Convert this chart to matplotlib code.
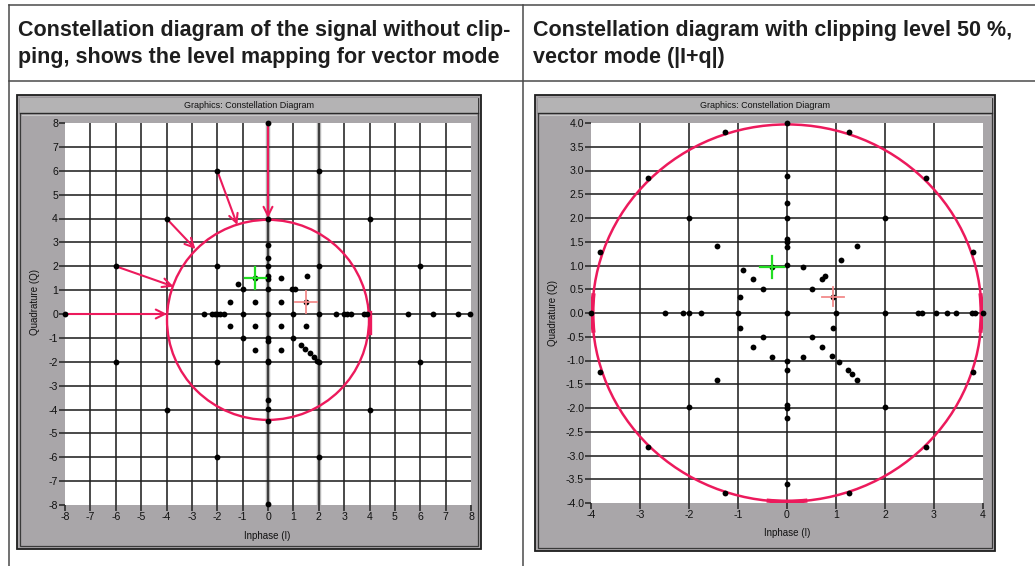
import matplotlib
matplotlib.use('Agg')
import matplotlib.pyplot as plt
from matplotlib.patches import Rectangle, Ellipse, Arc

W, H = 1035, 566

# ---------------- text ----------------
header_left = ["Constellation diagram of the signal without clip-",
               "ping, shows the level mapping for vector mode"]
header_right = ["Constellation diagram with clipping level 50 %,",
                "vector mode (|I+q|)"]
window_title = "Graphics: Constellation Diagram"
xlabel = "Inphase (I)"
ylabel = "Quadrature (Q)"

# ---------------- left chart data (no clipping) ----------------
left_ticks = [-8, -7, -6, -5, -4, -3, -2, -1, 0, 1, 2, 3, 4, 5, 6, 7, 8]
left_I = [-8, 0, -2, 2, -4, 4, -6, -2, 2, 6, -6, -2, 2, 6, -4, 4, -2, 2, 0, 0,
          -2.53, -2.2, -2.1, -2.0, -1.9, -1.74, -1.0, 0, 1.0, 2.0, 2.67, 3.0, 3.13, 3.26,
          3.78, 3.92, 5.5, 6.5, 7.5, 7.95,
          0, 0, 0, 0, 0, 0, 0, 0, 0, 0, 0, 0, 0,
          -1.2, -1.0, -0.5, 0.5, 1.55, 0.96, 1.05, -1.5, -0.5, 0.5, 1.5,
          -1.5, -0.5, 0.5, 1.5, -1.0, 1.0, -0.5, 0.5,
          1.3, 1.45, 1.65, 1.8, 1.95]
left_Q = [0, 8, 6, 6, 4, 4, 2, 2, 2, 2, -2, -2, -2, -2, -4, -4, -6, -6, -7.95, 4,
          0, 0, 0, 0, 0, 0, 0, 0, 0, 0, 0, 0, 0, 0,
          0, 0, 0, 0, 0, 0,
          2.9, 2.35, 2.0, 1.6, 1.45, 1.05, -1.0, -1.15, -1.97, -2.02, -3.6, -3.98, -4.48,
          1.27, 1.05, 1.5, 1.52, 1.6, 1.05, 1.05, 0.5, 0.52, 0.5, 0.52,
          -0.5, -0.5, -0.5, -0.5, -1.0, -1.0, -1.5, -1.5,
          -1.3, -1.45, -1.65, -1.8, -1.95]
# level-mapping arrows: start -> end
arrow_start_I = [-8, -6, -4, -2, 0]
arrow_start_Q = [0, 2, 4, 6, 8]
arrow_end_I = [-3.98, -3.72, -2.86, -1.21, 0]
arrow_end_Q = [0, 1.15, 2.72, 3.73, 4.02]
left_circle_center = (0, -0.245)
left_circle_size = (7.96, 8.38)
left_marker_green = (-0.5, 1.5)
left_marker_red = (1.5, 0.5)

# ---------------- right chart data (clipping 50 %) ----------------
right_xticks = [-4, -3, -2, -1, 0, 1, 2, 3, 4]
right_yticks = [-4.0, -3.5, -3.0, -2.5, -2.0, -1.5, -1.0, -0.5, 0.0,
                0.5, 1.0, 1.5, 2.0, 2.5, 3.0, 3.5, 4.0]
right_I = [-1.26, 1.26, -2.84, 2.83, -3.81, 3.80, -3.81, 3.80, -2.84, 2.83, -1.26, 1.26, 0, -3.99,
           -2.0, 2.0, -2.0, 2.0, -1.42, 1.43, -1.42, 1.43,
           0, 0, 0, 0, 0, 0, 0, 0, 0, 0, 0, 0, 0, 0,
           -2.5, -2.13, -2.01, -1.75, -1.0, 1.01, 2.0, 2.68, 2.75, 3.05, 3.26, 3.45, 3.77, 3.83, 3.99,
           -0.89, -0.70, -0.50, -0.96, -0.96, -0.50, -0.70, -0.31, 0.32, 0.50, 0.71, 0.94,
           0.92, 1.07, 1.25, 1.32, 0.32, 0.50, 0.71, 0.78, 1.10, -0.31, 0.94]
right_Q = [3.81, 3.81, 2.84, 2.84, 1.28, 1.28, -1.24, -1.24, -2.83, -2.83, -3.79, -3.79, 4.0, 0,
           2.0, 2.0, -1.98, -1.98, 1.42, 1.42, -1.40, -1.40,
           2.88, 2.32, 2.0, 1.56, 1.50, 1.40, 1.02, 0, -1.02, -1.19, -1.93, -1.99, -2.22, -3.6,
           0, 0, 0, 0, 0, 0, 0, 0, 0, 0, 0, 0, 0, 0, 0,
           0.90, 0.72, 0.51, 0.34, -0.32, -0.50, -0.72, -0.93, -0.93, -0.50, -0.72, -0.32,
           -0.91, -1.04, -1.21, -1.28, 0.96, 0.51, 0.72, 0.77, 1.12, 0.96, 0.34]
right_circle_radius = 3.97
right_marker_green = (-0.31, 0.97)
right_marker_red = (0.94, 0.34)

# ---------------- styles ----------------
RED = '#ec1a5c'
PANEL = '#a9a6a9'
TITLEBAR = '#b4b3b4'
GRID = '#222222'
UI_FONT = 'Liberation Sans'

fig = plt.figure(figsize=(W / 100, H / 100), dpi=100)
canvas = fig.add_axes([0, 0, 1, 1])
canvas.set_xlim(0, W)
canvas.set_ylim(H, 0)
canvas.axis('off')

# table lines
tl = dict(color='#4a4a4a', lw=1.1)
canvas.plot([9, W], [5, 5], **tl)
canvas.plot([9, W], [81, 81], **tl)
canvas.plot([9, 9], [5, H], **tl)
canvas.plot([523, 523], [5, H], **tl)

# header text, fitted to the reference width
hdr_kw = dict(fontfamily='Liberation Sans', fontweight='bold', color='#1e1e1e', va='baseline', ha='left')
fs = 13.0
t = canvas.text(18, 36, header_left[0], fontsize=fs, **hdr_kw)
fig.canvas.draw()
w = t.get_window_extent().width
fs = fs * 490.0 / w
t.set_fontsize(fs)
canvas.text(18, 63, header_left[1], fontsize=fs, **hdr_kw)
canvas.text(533, 36, header_right[0], fontsize=fs, **hdr_kw)
canvas.text(533, 63, header_right[1], fontsize=fs, **hdr_kw)


def window_frame(x0, y0, x1, y1):
    canvas.add_patch(Rectangle((x0, y0), x1 - x0, y1 - y0, facecolor=PANEL,
                               edgecolor='#1e1e1e', lw=1.3, zorder=1))
    canvas.add_patch(Rectangle((x0 + 3, y0 + 3), x1 - x0 - 6, y1 - y0 - 6, facecolor='none',
                               edgecolor='#3a3a3a', lw=0.9, zorder=2))
    canvas.add_patch(Rectangle((x0 + 3, y0 + 3), x1 - x0 - 6, 15, facecolor=TITLEBAR,
                               edgecolor='none', zorder=2))
    canvas.plot([x0 + 3, x1 - 3], [y0 + 18, y0 + 18], color='#2a2a2a', lw=1.0, zorder=3)
    canvas.plot([x0 + 5, x1 - 5], [y0 + 20, y0 + 20], color='#c8c8c8', lw=0.8, zorder=3)
    canvas.text((x0 + x1) / 2, y0 + 11, window_title, ha='center', va='center',
                fontsize=6.5, fontfamily=UI_FONT, color='#111111', zorder=4)


def plot_axes(x0, y0, x1, y1):
    ax = fig.add_axes([x0 / W, 1 - y1 / H, (x1 - x0) / W, (y1 - y0) / H], zorder=5)
    ax.set_facecolor('white')
    for s in ax.spines.values():
        s.set_visible(False)
    ax.tick_params(axis='both', length=4, width=1.1, color='#222222', labelsize=7.6,
                   pad=1, labelcolor='#111111')
    return ax


# ---------------- left window ----------------
window_frame(17, 95, 481, 549)
axL = plot_axes(65, 123, 471, 505)
axL.set_xlim(left_ticks[0], left_ticks[-1])
axL.set_ylim(left_ticks[0], left_ticks[-1])
axL.set_xticks(left_ticks)
axL.set_yticks(left_ticks)
axL.set_xticklabels([str(v) for v in left_ticks], fontfamily=UI_FONT)
axL.set_yticklabels([str(v) for v in left_ticks], fontfamily=UI_FONT)
for v in left_ticks[1:-1]:
    if v in (0, 2):
        axL.axvline(v, color='#b5b5b5', lw=3.2, zorder=1)
    axL.axvline(v, color=GRID, lw=1.15, zorder=1.5)
    axL.axhline(v, color=GRID, lw=1.15, zorder=1.5)

axL.add_patch(Ellipse(left_circle_center, left_circle_size[0], left_circle_size[1],
                      facecolor='none', edgecolor=RED, lw=1.7, zorder=3))
axL.plot([4, 4], [0.1, -0.8], color=RED, lw=2.4, zorder=3)
for sx, sy, ex, ey in zip(arrow_start_I, arrow_start_Q, arrow_end_I, arrow_end_Q):
    axL.annotate('', xy=(ex, ey), xytext=(sx, sy),
                 arrowprops=dict(arrowstyle='->', color=RED, lw=1.5, mutation_scale=16,
                                 shrinkA=0, shrinkB=0), zorder=4)
axL.plot(left_I, left_Q, 'o', color='black', ms=4.2, mew=0, zorder=6, clip_on=False)
gx, gy = left_marker_green
axL.plot([gx - 0.42, gx + 0.42], [gy, gy], color='#22dd22', lw=1.6, zorder=7)
axL.plot([gx, gx], [gy - 0.45, gy + 0.45], color='#22dd22', lw=1.6, zorder=7)
rx, ry = left_marker_red
axL.plot([rx - 0.42, rx + 0.42], [ry, ry], color='#f28a8a', lw=1.3, zorder=7)
axL.plot([rx, rx], [ry - 0.45, ry + 0.45], color='#f28a8a', lw=1.3, zorder=7)

canvas.text(267, 536, xlabel, ha='center', va='center', fontsize=7,
            fontfamily=UI_FONT, color='#111111', zorder=4)
canvas.text(35, 302, ylabel, ha='center', va='center', rotation=90, fontsize=7,
            fontfamily=UI_FONT, color='#111111', zorder=4)

# ---------------- right window ----------------
window_frame(535, 95, 995, 551)
axR = plot_axes(591, 123, 983, 503)
axR.set_xlim(right_xticks[0], right_xticks[-1])
axR.set_ylim(right_yticks[0], right_yticks[-1])
axR.set_xticks(right_xticks)
axR.set_yticks(right_yticks)
axR.set_xticklabels([str(v) for v in right_xticks], fontfamily=UI_FONT)
axR.set_yticklabels(['%.1f' % v for v in right_yticks], fontfamily=UI_FONT)
for v in right_xticks[1:-1]:
    axR.axvline(v, color=GRID, lw=1.15, zorder=1.5)
for v in right_yticks[1:-1]:
    axR.axhline(v, color=GRID, lw=1.15, zorder=1.5)

R = right_circle_radius
axR.add_patch(Ellipse((0, 0), 2 * R, 2 * R, facecolor='none', edgecolor=RED, lw=1.8, zorder=3))
for a1, a2 in [(-6, 6), (174, 186), (264, 276)]:
    axR.add_patch(Arc((0, 0), 2 * R, 2 * R, theta1=a1, theta2=a2, edgecolor=RED, lw=3.0, zorder=3))
axR.plot(right_I, right_Q, 'o', color='black', ms=4.2, mew=0, zorder=6, clip_on=False)
gx, gy = right_marker_green
axR.plot([gx - 0.24, gx + 0.24], [gy, gy], color='#22dd22', lw=1.6, zorder=7)
axR.plot([gx, gx], [gy - 0.23, gy + 0.23], color='#22dd22', lw=1.6, zorder=7)
rx, ry = right_marker_red
axR.plot([rx - 0.22, rx + 0.22], [ry, ry], color='#f28a8a', lw=1.3, zorder=7)
axR.plot([rx, rx], [ry - 0.2, ry + 0.2], color='#f28a8a', lw=1.3, zorder=7)

canvas.text(787, 533, xlabel, ha='center', va='center', fontsize=7,
            fontfamily=UI_FONT, color='#111111', zorder=4)
canvas.text(553, 313, ylabel, ha='center', va='center', rotation=90, fontsize=7,
            fontfamily=UI_FONT, color='#111111', zorder=4)

fig.savefig('out.png', dpi=100, facecolor='white')
